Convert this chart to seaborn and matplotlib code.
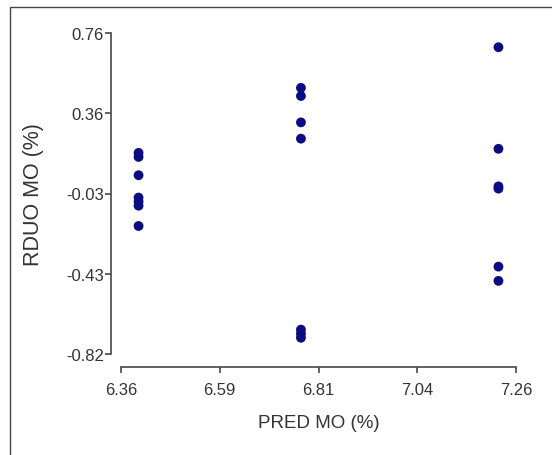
import seaborn as sns
import matplotlib.pyplot as plt
import pandas as pd
from matplotlib.patches import Rectangle

# predicted MO (x) and residual RDUO MO (y)
pred_mo = [6.40] * 7 + [6.77] * 7 + [7.22] * 6
rduo_mo = [0.17, 0.15, 0.06, -0.05, -0.07, -0.09, -0.19,
           0.49, 0.45, 0.32, 0.24, -0.70, -0.72, -0.74,
           0.69, 0.19, 0.005, -0.006, -0.39, -0.46]

x_ticks = [6.36, 6.585, 6.81, 7.035, 7.26]
x_labels = ["6.36", "6.59", "6.81", "7.04", "7.26"]
y_ticks = [-0.82, -0.425, -0.03, 0.365, 0.76]
y_labels = ["-0.82", "-0.43", "-0.03", "0.36", "0.76"]


def main():
    df = pd.DataFrame({"PRED MO (%)": pred_mo, "RDUO MO (%)": rduo_mo})

    sns.set_style("ticks")
    plt.rcParams['font.family'] = ['Liberation Sans', 'DejaVu Sans']

    fig = plt.figure(figsize=(5.52, 4.56), dpi=100)
    ax = fig.add_axes([121 / 552, 1 - 355 / 456, 395 / 552, 321 / 456])

    # outer frame, only left and top show in the original crop
    fig.patches.append(Rectangle((10 / 552, -0.1), 1.2, 1 - 8 / 456 + 0.1,
                                 transform=fig.transFigure, fill=False,
                                 edgecolor="#444444", linewidth=1.0))

    sns.scatterplot(data=df, x="PRED MO (%)", y="RDUO MO (%)", ax=ax,
                    color="#0c0c82", s=50, edgecolor="none", clip_on=False)

    ax.set_xlim(6.36, 7.26)
    ax.set_ylim(-0.82, 0.76)
    ax.set_xticks(x_ticks, x_labels)
    ax.set_yticks(y_ticks, y_labels)

    sns.despine(ax=ax)
    ax.spines['left'].set_position(('outward', 10 * 72 / 100))
    ax.spines['bottom'].set_position(('outward', 13 * 72 / 100))
    for side in ['left', 'bottom']:
        ax.spines[side].set_color("#555555")
        ax.spines[side].set_linewidth(1.3)
    ax.tick_params(colors="#555555", length=4, width=1.3, labelsize=12,
                   labelcolor="#333333")
    ax.tick_params(axis='x', pad=6.5)
    ax.tick_params(axis='y', pad=1)

    ax.set_xlabel("PRED MO (%)", fontsize=13.5, color="#333333", va='center')
    ax.set_ylabel("RDUO MO (%)", fontsize=15.5, color="#333333", va='center')
    ax.xaxis.set_label_coords(0.5, (355 - 423) / 321)
    ax.yaxis.set_label_coords((33 - 121) / 395, 0.5)

    fig.savefig("out.png", dpi=100)


if __name__ == '__main__':
    main()
